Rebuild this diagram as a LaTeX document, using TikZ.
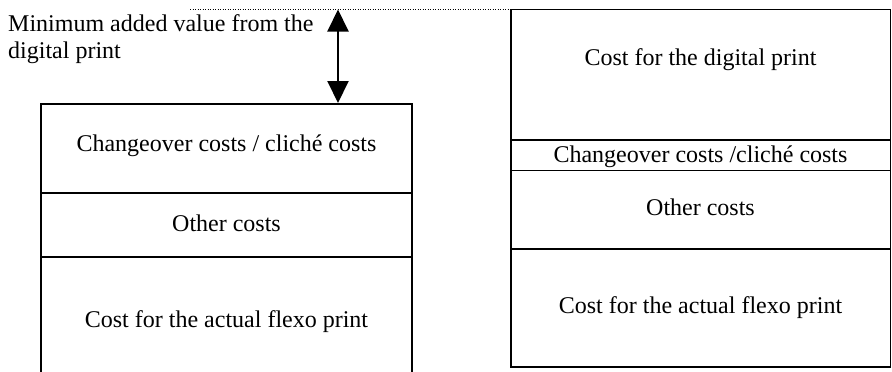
\documentclass[tikz,border=0pt]{standalone}
\usepackage{fontspec}
\setmainfont{Liberation Serif}
\usetikzlibrary{arrows.meta}
\begin{document}
\begin{tikzpicture}[x=1bp,y=-1bp,
  boxline/.style={line width=1.6bp,black},
  lbl/.style={font=\fontsize{24bp}{27bp}\selectfont,inner sep=0pt,anchor=base},
  guide/.style={line width=1.2bp,black,dash pattern=on 1.2bp off 1.3bp},
  dblarrow/.style={line width=2bp,{Triangle[width=21bp,length=22bp]}-{Triangle[width=21bp,length=22bp]}}]
\useasboundingbox (0,0) rectangle (892,371);
% left column
\coordinate (LTL) at (41,104);
\coordinate (LTR) at (412,104);
\coordinate (LBL) at (41,372);
\coordinate (LBR) at (412,372);
\draw[boxline] (LBL) -- (LTL) -- (LTR) -- (LBR);
\coordinate (L1a) at (41,193); \coordinate (L1b) at (412,193);
\coordinate (L2a) at (41,257); \coordinate (L2b) at (412,257);
\draw[boxline] (L1a) -- (L1b);
\draw[boxline] (L2a) -- (L2b);
\node[lbl] (lchange) at (226.5,151) {Changeover costs / cliché costs};
\node[lbl] (lother) at (226.5,231) {Other costs};
\node[lbl] (lflexo) at (226.5,327) {Cost for the actual flexo print};
% right column
\coordinate (RTL) at (511,9.5);
\coordinate (RBR) at (890.5,367);
\draw[boxline] (RTL) rectangle (RBR);
\coordinate (R1a) at (511,140); \coordinate (R1b) at (890.5,140);
\coordinate (R2a) at (511,170.5); \coordinate (R2b) at (890.5,170.5);
\coordinate (R3a) at (511,249); \coordinate (R3b) at (890.5,249);
\draw[boxline] (R1a) -- (R1b);
\draw[boxline] (R2a) -- (R2b);
\draw[boxline] (R3a) -- (R3b);
\node[lbl] (rdigital) at (700.5,65) {Cost for the digital print};
\node[lbl] (rchange) at (700.5,162) {Changeover costs /cliché costs};
\node[lbl] (rother) at (700.5,215) {Other costs};
\node[lbl] (rflexo) at (700.5,313) {Cost for the actual flexo print};
% guide line and arrow
\coordinate (G0) at (190,9.5);
\draw[guide] (G0) -- (RTL);
\coordinate (Atop) at (338,9.5);
\coordinate (Abot) at (338,103);
\draw[dblarrow] (Atop) -- (Abot);
\node[font=\fontsize{24bp}{27bp}\selectfont,inner sep=0pt,anchor=north west,align=left] (minval) at (8,14)
  {Minimum added value from the\\digital print};
\end{tikzpicture}
\end{document}
